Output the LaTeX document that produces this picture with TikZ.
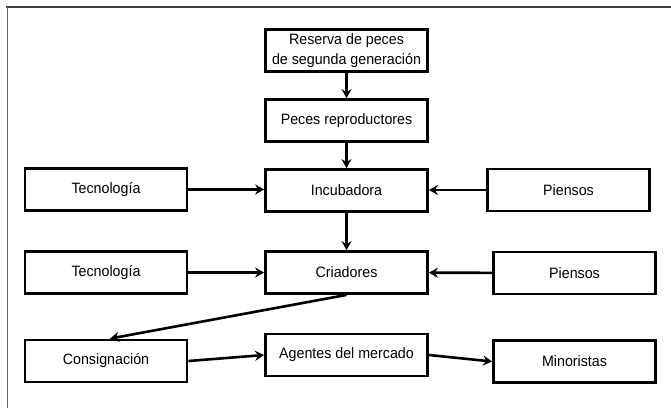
\documentclass[tikz,border=0pt]{standalone}
\usepackage{fontspec}
\setmainfont[FakeStretch=0.95]{Liberation Sans}
\usetikzlibrary{arrows.meta}
\begin{document}
\begin{tikzpicture}[x=1pt,y=-1pt,
  box/.style={draw=black, line width=2.8pt, minimum width=162pt, minimum height=42pt,
    inner sep=0pt, align=center, font=\fontsize{15pt}{20pt}\selectfont},
  arr/.style={line width=2.6pt, -{Stealth[length=9pt,width=10pt,inset=3pt]}}]
\useasboundingbox (0,0) rectangle (671,408);
\fill[white] (0,0) rectangle (671,408);
\draw[black!75, line width=2pt] (6,7) -- (671,7);
\draw[black!60, line width=1pt] (7,7) -- (7,408);

\node[box] (res) at (346.5,50.5) {Reserva de peces\\de segunda generación};
\node[box] (pec) at (346.5,120.5) {Peces reproductores};
\node[box] (inc) at (346.5,190.5) {Incubadora};
\node[box] (tec1) at (106,189.5) {Tecnología};
\node[box] (pie1) at (568.5,190) {Piensos};
\node[box] (cri) at (346.5,272.5) {Criadores};
\node[box] (tec2) at (106,272.5) {Tecnología};
\node[box] (pie2) at (574.5,273) {Piensos};
\node[box] (con) at (106,361) {Consignación};
\node[box] (age) at (346.5,355) {Agentes del mercado};
\node[box] (min) at (574.5,361.5) {Minoristas};

\draw[arr] (res) -- (pec);
\draw[arr] (pec) -- (inc);
\draw[arr] (tec1.east) -- (inc.west |- tec1.east);
\draw[arr] (pie1.west) -- (inc.east |- pie1.west);
\draw[arr] (inc) -- (cri);
\draw[arr] (tec2) -- (cri);
\draw[arr] (pie2) -- (cri);
\draw[arr] (cri.south) -- ([xshift=4pt]con.north);
\draw[arr] (con.east) -- (age.west);
\draw[arr] (age.east) -- (min.west);
\end{tikzpicture}
\end{document}
